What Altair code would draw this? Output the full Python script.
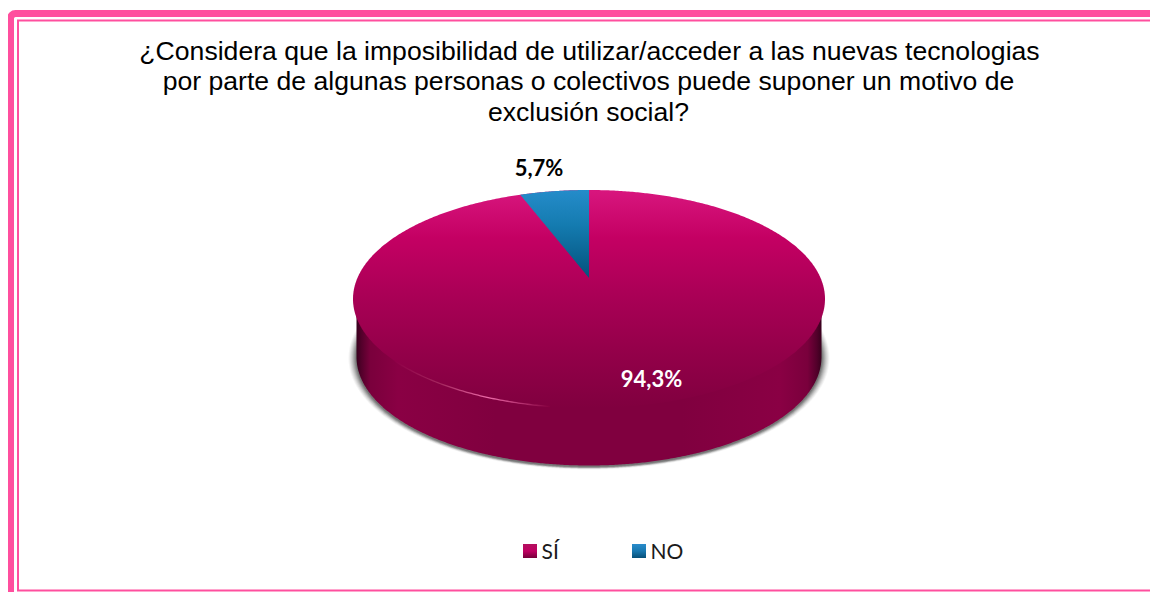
import numpy as np
import pandas as pd
import altair as alt

categories = ["SÍ", "NO"]
shares = [94.3, 5.7]
title_lines = [
    "¿Considera que la imposibilidad de utilizar/acceder a las nuevas tecnologias",
    "por parte de algunas personas o colectivos puede suponer un motivo de",
    "exclusión social?",
]

W, H = 1142, 584
CX, CY, A, B = 589.0, 299.0, 236.0, 109.0
APEX_Y = 278.0
SIDE_CY, SIDE_A, SIDE_B = 357.0, 232.5, 108.5
PINK = "#ff4f9e"

xs = alt.Scale(domain=[8, 8 + W], range=[0, W], nice=False, zero=False)
ys = alt.Scale(domain=[8, 8 + H], range=[0, H], nice=False, zero=False)
X = alt.X("x:Q", scale=xs, axis=None)
Y = alt.Y("y:Q", scale=ys, axis=None)
Y2 = alt.Y2("y2:Q")


def grad(stops, vertical=True):
    return alt.Gradient(
        gradient="linear",
        x1=0, y1=0, x2=0 if vertical else 1, y2=1 if vertical else 0,
        stops=[alt.GradientStop(offset=o, color=c) for o, c in stops],
    )


def ellipse_df(cx, cy, a, b, n=400):
    t = np.linspace(np.pi, 0, n)
    return pd.DataFrame({
        "x": cx + a * np.cos(t),
        "y": cy - b * np.sin(t),
        "y2": cy + b * np.sin(t),
    })


# wedge edge, from the NO share, through the perspective of the tilted disc
k = (130 - 88) / (130 + 88)
ang = shares[1] / 100 * 2 * np.pi
edge_x = CX - (A / np.sqrt(1 / (1 - k * k))) * np.sin(ang) / (1 + k * np.cos(ang))
edge_y = CY - B * np.sqrt(1 - ((edge_x - CX) / A) ** 2)
wx = np.linspace(edge_x, CX, 60)
wedge = pd.DataFrame({
    "x": wx,
    "y": CY - B * np.sqrt(1 - ((wx - CX) / A) ** 2),
    "y2": edge_y + (APEX_Y - edge_y) * (wx - edge_x) / (CX - edge_x),
})

# soft shadow under the disc
shadow_layers = []
for grow_x, grow_y, op in [(8, 3, 0.04), (7, 2.5, 0.05), (6, 2, 0.06), (5, 2, 0.07),
                           (4, 1.5, 0.09), (3, 1.5, 0.11), (2, 1, 0.13), (1, 0.5, 0.16)]:
    df = ellipse_df(CX, SIDE_CY + 1, SIDE_A + grow_x, SIDE_B + grow_y)
    shadow_layers.append(
        alt.Chart(df).mark_area(color="#000000", opacity=op, clip=False).encode(x=X, y=Y, y2=Y2)
    )

side_df = ellipse_df(CX, SIDE_CY, SIDE_A, SIDE_B)
side_df["y"] = CY
side = alt.Chart(side_df).mark_area(
    color=grad([(0, "#38001d"), (0.01, "#52002a"), (0.03, "#7a003c"), (0.09, "#8a0044"), (0.3, "#80003f"),
                (0.7, "#80003f"), (0.91, "#8a0044"), (0.97, "#7a003c"), (0.99, "#52002a"), (1, "#38001d")],
               vertical=False)
).encode(x=X, y=Y, y2=Y2)

top = alt.Chart(ellipse_df(CX, CY, A, B)).mark_area(
    color=grad([(0, "#d8167e"), (0.22, "#c40063"), (0.5, "#a80055"), (0.75, "#930049"), (1, "#80003f")])
).encode(x=X, y=Y, y2=Y2)

wedge_mark = alt.Chart(wedge).mark_area(
    color=grad([(0, "#258cca"), (0.4, "#147bb0"), (1, "#04527c")])
).encode(x=X, y=Y, y2=Y2)

hx = np.linspace(395, 550, 70)
highlight = alt.Chart(pd.DataFrame({
    "x": hx, "y": CY + B * np.sqrt(1 - ((hx - CX) / A) ** 2)
})).mark_line(
    strokeWidth=1.3,
    color=alt.Gradient(
        gradient="linear", x1=0, y1=0, x2=1, y2=0,
        stops=[alt.GradientStop(offset=0, color="#8f0047"),
               alt.GradientStop(offset=0.3, color="#a5285f"),
               alt.GradientStop(offset=0.6, color="#ec6aa8"),
               alt.GradientStop(offset=1, color="#85003f")],
    ),
).encode(x=X, y=Y)

# frame
frame_data = alt.Data(values=[{}])
outer = alt.Chart(frame_data).mark_rect(
    fill="#ffffff", stroke=PINK, strokeWidth=7, cornerRadius=5
).encode(x=alt.value(2.5), x2=alt.value(W + 60), y=alt.value(5.5), y2=alt.value(H + 60))
inner = alt.Chart(frame_data).mark_rect(
    fill="#ffffff", stroke=PINK, strokeWidth=2
).encode(x=alt.value(10), x2=alt.value(W + 60), y=alt.value(12.5), y2=alt.value(H - 1.5))

# title
title_x = [589.5, 588.5, 588.5]
title_y = [60, 90, 121]
titles = [
    alt.Chart(pd.DataFrame({"t": [line], "x": [tx], "y": [ty]})).mark_text(
        font="Liberation Sans", fontSize=26.6, color="#000000", align="center", baseline="alphabetic"
    ).encode(x=X, y=Y, text="t:N")
    for line, tx, ty in zip(title_lines, title_x, title_y)
]

# value labels
fmt = [f"{s:.1f}%".replace(".", ",") for s in shares]
labels = [
    alt.Chart(pd.DataFrame({"t": [fmt[0]], "x": [651.5], "y": [387]})).mark_text(
        font="Lato", fontWeight="bold", fontSize=22, color="#ffffff", baseline="alphabetic"
    ).encode(x=X, y=Y, text="t:N"),
    alt.Chart(pd.DataFrame({"t": [fmt[1]], "x": [539], "y": [176]})).mark_text(
        font="Lato", fontWeight="bold", fontSize=22, color="#000000", baseline="alphabetic"
    ).encode(x=X, y=Y, text="t:N"),
]

# legend
legend_x = [523, 632]
legend_grads = [
    [(0, "#b3105f"), (0.5, "#c00062"), (1, "#76003a")],
    [(0, "#2a8ccb"), (0.5, "#1878b0"), (1, "#075078")],
]
legend = []
for cat, lx, g in zip(categories, legend_x, legend_grads):
    legend.append(
        alt.Chart(pd.DataFrame({"x": [lx], "x2": [lx + 14], "y": [544], "y2": [558]})).mark_rect(
            color=grad(g)
        ).encode(x=X, x2=alt.X2("x2:Q"), y=Y, y2=Y2)
    )
    legend.append(
        alt.Chart(pd.DataFrame({"t": [cat], "x": [lx + 18.5], "y": [559]})).mark_text(
            font="Lato", fontSize=21, color="#1a1a1a", align="left", baseline="alphabetic"
        ).encode(x=X, y=Y, text="t:N")
    )

chart = alt.layer(
    outer, inner, *shadow_layers, side, top, wedge_mark, highlight, *titles, *labels, *legend
).properties(
    width=W, height=H, padding=0, autosize=alt.AutoSizeParams(type="none"), background="#ffffff"
).configure_view(stroke=None)

chart.save("out.html", embed_options={"renderer": "svg", "actions": False})
